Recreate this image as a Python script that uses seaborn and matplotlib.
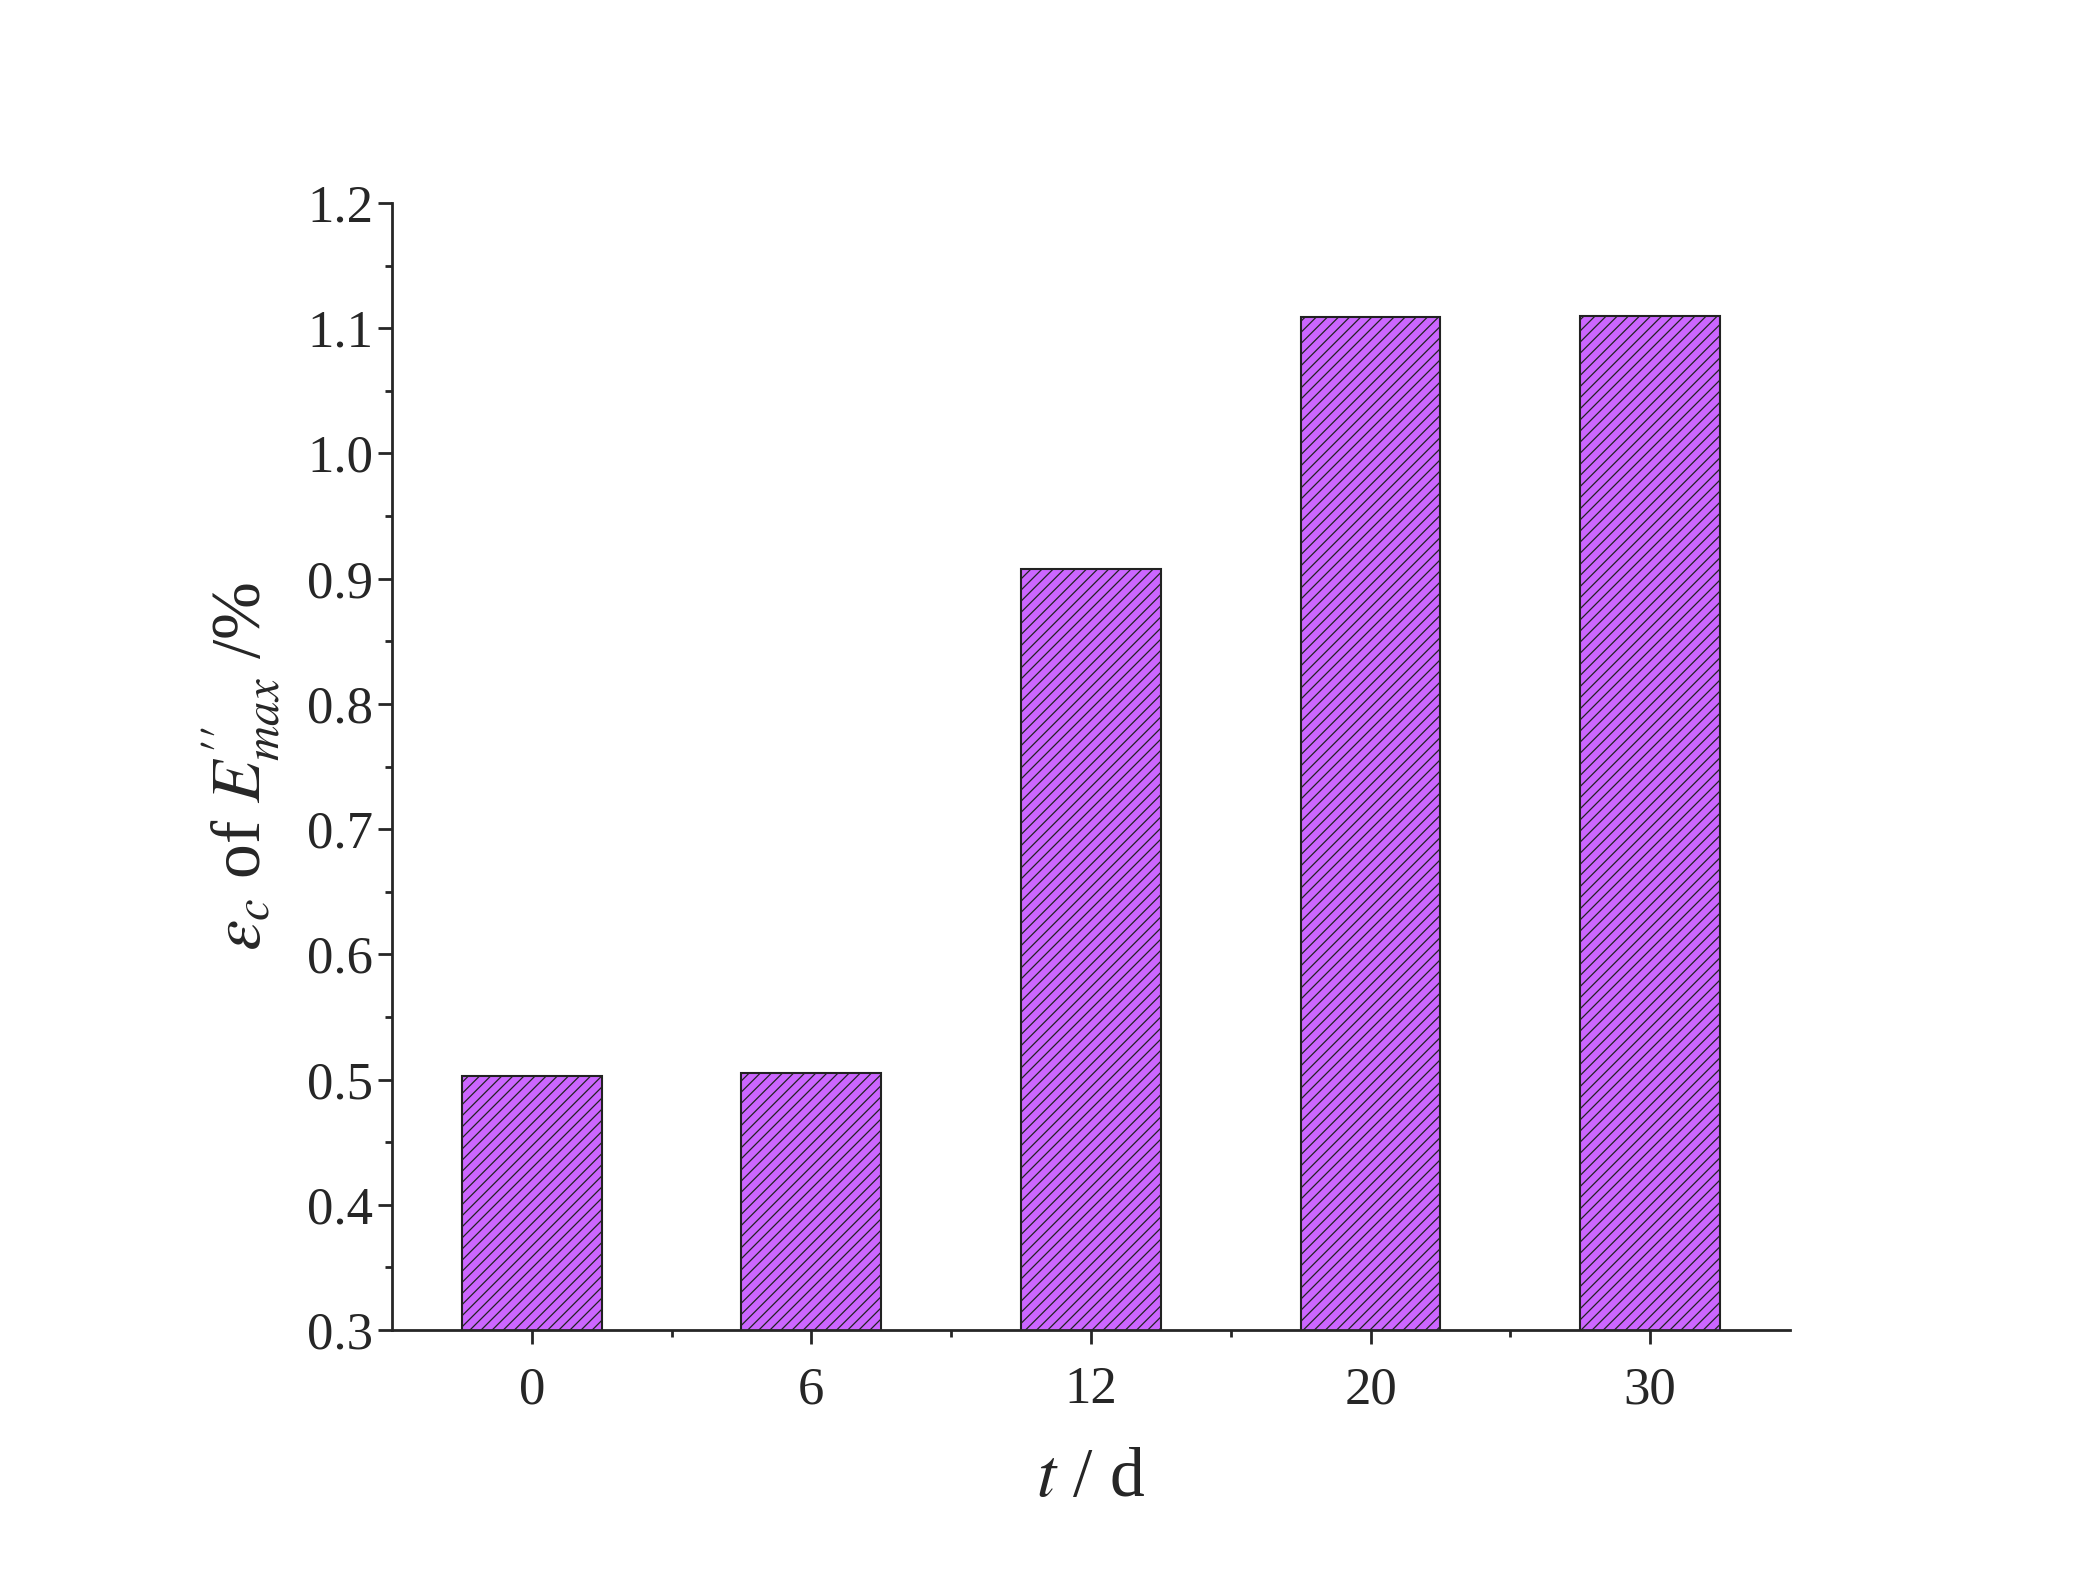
import matplotlib
matplotlib.use("Agg")
import matplotlib.pyplot as plt
import seaborn as sns
import pandas as pd
from matplotlib.ticker import MultipleLocator

days = ["0", "6", "12", "20", "30"]
strain = [0.503, 0.505, 0.908, 1.109, 1.110]

sns.set_style("ticks")
plt.rcParams["font.family"] = ["Liberation Serif", "DejaVu Serif"]
plt.rcParams["mathtext.fontset"] = "stix"
plt.rcParams["hatch.color"] = "#5a2a6e"
plt.rcParams["hatch.linewidth"] = 0.9

df = pd.DataFrame({"t": days, "eps": strain})

fig = plt.figure(figsize=(20.96, 15.74), dpi=100)
ax = fig.add_axes([0.187, 0.155, 0.667, 0.716])
sns.barplot(data=df, x="t", y="eps", ax=ax, color="#cc66ff", saturation=1,
            width=0.5, edgecolor="#222222", linewidth=1.5, hatch="///")

ax.set_ylim(0.3, 1.2)
ax.set_xlim(-0.5, 4.5)
ax.yaxis.set_major_locator(MultipleLocator(0.1))
ax.yaxis.set_minor_locator(MultipleLocator(0.05))
ax.set_xticks([0.5, 1.5, 2.5, 3.5], minor=True)
ax.tick_params(axis="both", which="major", labelsize=38, length=10, width=2, direction="out")
ax.tick_params(axis="x", which="major", pad=16)
ax.tick_params(axis="both", which="minor", length=5, width=2, direction="out")
for s in ["top", "right"]:
    ax.spines[s].set_visible(False)
for s in ["left", "bottom"]:
    ax.spines[s].set_linewidth(2)

ax.set_xlabel(r"$t$ / d", fontsize=50, labelpad=24)
ax.set_ylabel(r"$\varepsilon_c$ of $E^{\prime\prime}_{max}$ /%", fontsize=50, labelpad=18)

fig.savefig("out.png", dpi=100, facecolor="white")
